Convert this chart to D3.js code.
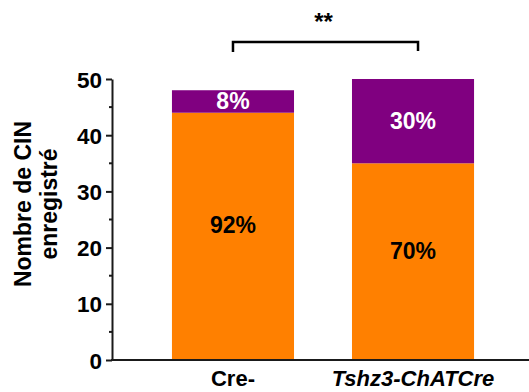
<!DOCTYPE html>
<html>
<head>
<meta charset="utf-8">
<script src="https://cdn.jsdelivr.net/npm/d3@7"></script>
<style>
  html, body { margin: 0; padding: 0; background: #fff; }
  svg { display: block; font-family: "Liberation Sans", Arial, sans-serif; font-weight: bold; }
</style>
</head>
<body>
<svg id="chart" width="529" height="392"></svg>
<script>
// Recorded cholinergic interneurons per genotype, split in two populations
const categories = ["Cre-", "Tshz3-ChATCre"];
const orangeValues = [44, 35];
const purpleValues = [4, 15];
const orangeLabels = ["92%", "70%"];
const purpleLabels = ["8%", "30%"];
const yTicks = [0, 10, 20, 30, 40, 50];
const yMinorTicks = [5, 15, 25, 35, 45];
const significance = "**";

const svg = d3.select("#chart");
const W = 529, H = 392;
const ORANGE = "#FF8000", PURPLE = "#800080", INK = "#1a1a1a";

const x = d3.scaleBand()
  .domain(categories)
  .range([112, 534])
  .paddingInner(0.322)
  .paddingOuter(0.333);

const y = d3.scaleLinear().domain([0, 50]).range([360, 79]);

const data = categories.map((c, i) => ({
  cat: c,
  orange: orangeValues[i],
  purple: purpleValues[i],
  oLab: orangeLabels[i],
  pLab: purpleLabels[i]
}));

// Bars: orange segment at the bottom, purple stacked on top
const bars = svg.append("g");
bars.selectAll("rect.o").data(data).join("rect")
  .attr("x", d => x(d.cat)).attr("width", x.bandwidth())
  .attr("y", d => y(d.orange)).attr("height", d => y(0) - y(d.orange))
  .attr("fill", ORANGE);
bars.selectAll("rect.p").data(data).join("rect")
  .attr("x", d => x(d.cat)).attr("width", x.bandwidth())
  .attr("y", d => y(d.orange + d.purple)).attr("height", d => y(d.orange) - y(d.orange + d.purple))
  .attr("fill", PURPLE);

// Percent labels inside segments
svg.append("g").selectAll("text").data(data).join("text")
  .attr("x", d => x(d.cat) + x.bandwidth() / 2)
  .attr("y", d => (y(0) + y(d.orange)) / 2 - 3)
  .attr("text-anchor", "middle")
  .attr("font-size", 23)
  .attr("fill", "#000")
  .text(d => d.oLab);
svg.append("g").selectAll("text").data(data).join("text")
  .attr("x", d => x(d.cat) + x.bandwidth() / 2)
  .attr("y", d => (y(d.orange) + y(d.orange + d.purple)) / 2 + 8)
  .attr("text-anchor", "middle")
  .attr("font-size", 23)
  .attr("fill", "#fff")
  .text(d => d.pLab);

// Y axis with major and minor ticks
const yAxis = svg.append("g").attr("transform", "translate(112,0)")
  .call(d3.axisLeft(y).tickValues(yTicks).tickSize(6).tickPadding(4).tickSizeOuter(0));
yAxis.select(".domain").attr("stroke", INK).attr("stroke-width", 2);
yAxis.selectAll(".tick line").attr("stroke", INK).attr("stroke-width", 2);
yAxis.selectAll(".tick text")
  .attr("font-size", 22.5).attr("font-family", "Liberation Sans, Arial, sans-serif")
  .attr("font-weight", "bold").attr("fill", "#000").attr("dy", "0.36em");
svg.append("g").selectAll("line").data(yMinorTicks).join("line")
  .attr("x1", 109).attr("x2", 112)
  .attr("y1", d => y(d)).attr("y2", d => y(d))
  .attr("stroke", INK).attr("stroke-width", 2);

// X axis baseline
svg.append("line")
  .attr("x1", 111).attr("x2", W)
  .attr("y1", y(0)).attr("y2", y(0))
  .attr("stroke", INK).attr("stroke-width", 2);

// Category labels
svg.append("g").selectAll("text").data(categories).join("text")
  .attr("x", d => x(d) + x.bandwidth() / 2)
  .attr("y", 386)
  .attr("text-anchor", "middle")
  .attr("font-size", 22)
  .attr("font-style", (d, i) => i === 1 ? "italic" : "normal")
  .attr("fill", "#000")
  .text(d => d);

// Y axis title on two lines
const titleLines = ["Nombre de CIN", "enregistré"];
svg.append("g").selectAll("text").data(titleLines).join("text")
  .attr("transform", (d, i) => `translate(${31 + i * 26},204) rotate(-90)`)
  .attr("text-anchor", "middle")
  .attr("font-size", 23)
  .attr("fill", "#000")
  .text(d => d);

// Significance bracket between the two groups
const bx1 = x(categories[0]) + x.bandwidth() / 2;
const bx2 = x(categories[1]) + x.bandwidth() / 2 + 5;
svg.append("path")
  .attr("d", `M${bx1},52 V42 H${bx2} V51`)
  .attr("fill", "none").attr("stroke", "#000").attr("stroke-width", 2.5);
svg.append("text")
  .attr("x", (bx1 + bx2) / 2 - 2).attr("y", 30)
  .attr("text-anchor", "middle")
  .attr("font-size", 24)
  .attr("fill", "#000")
  .text(significance);
</script>
</body>
</html>
